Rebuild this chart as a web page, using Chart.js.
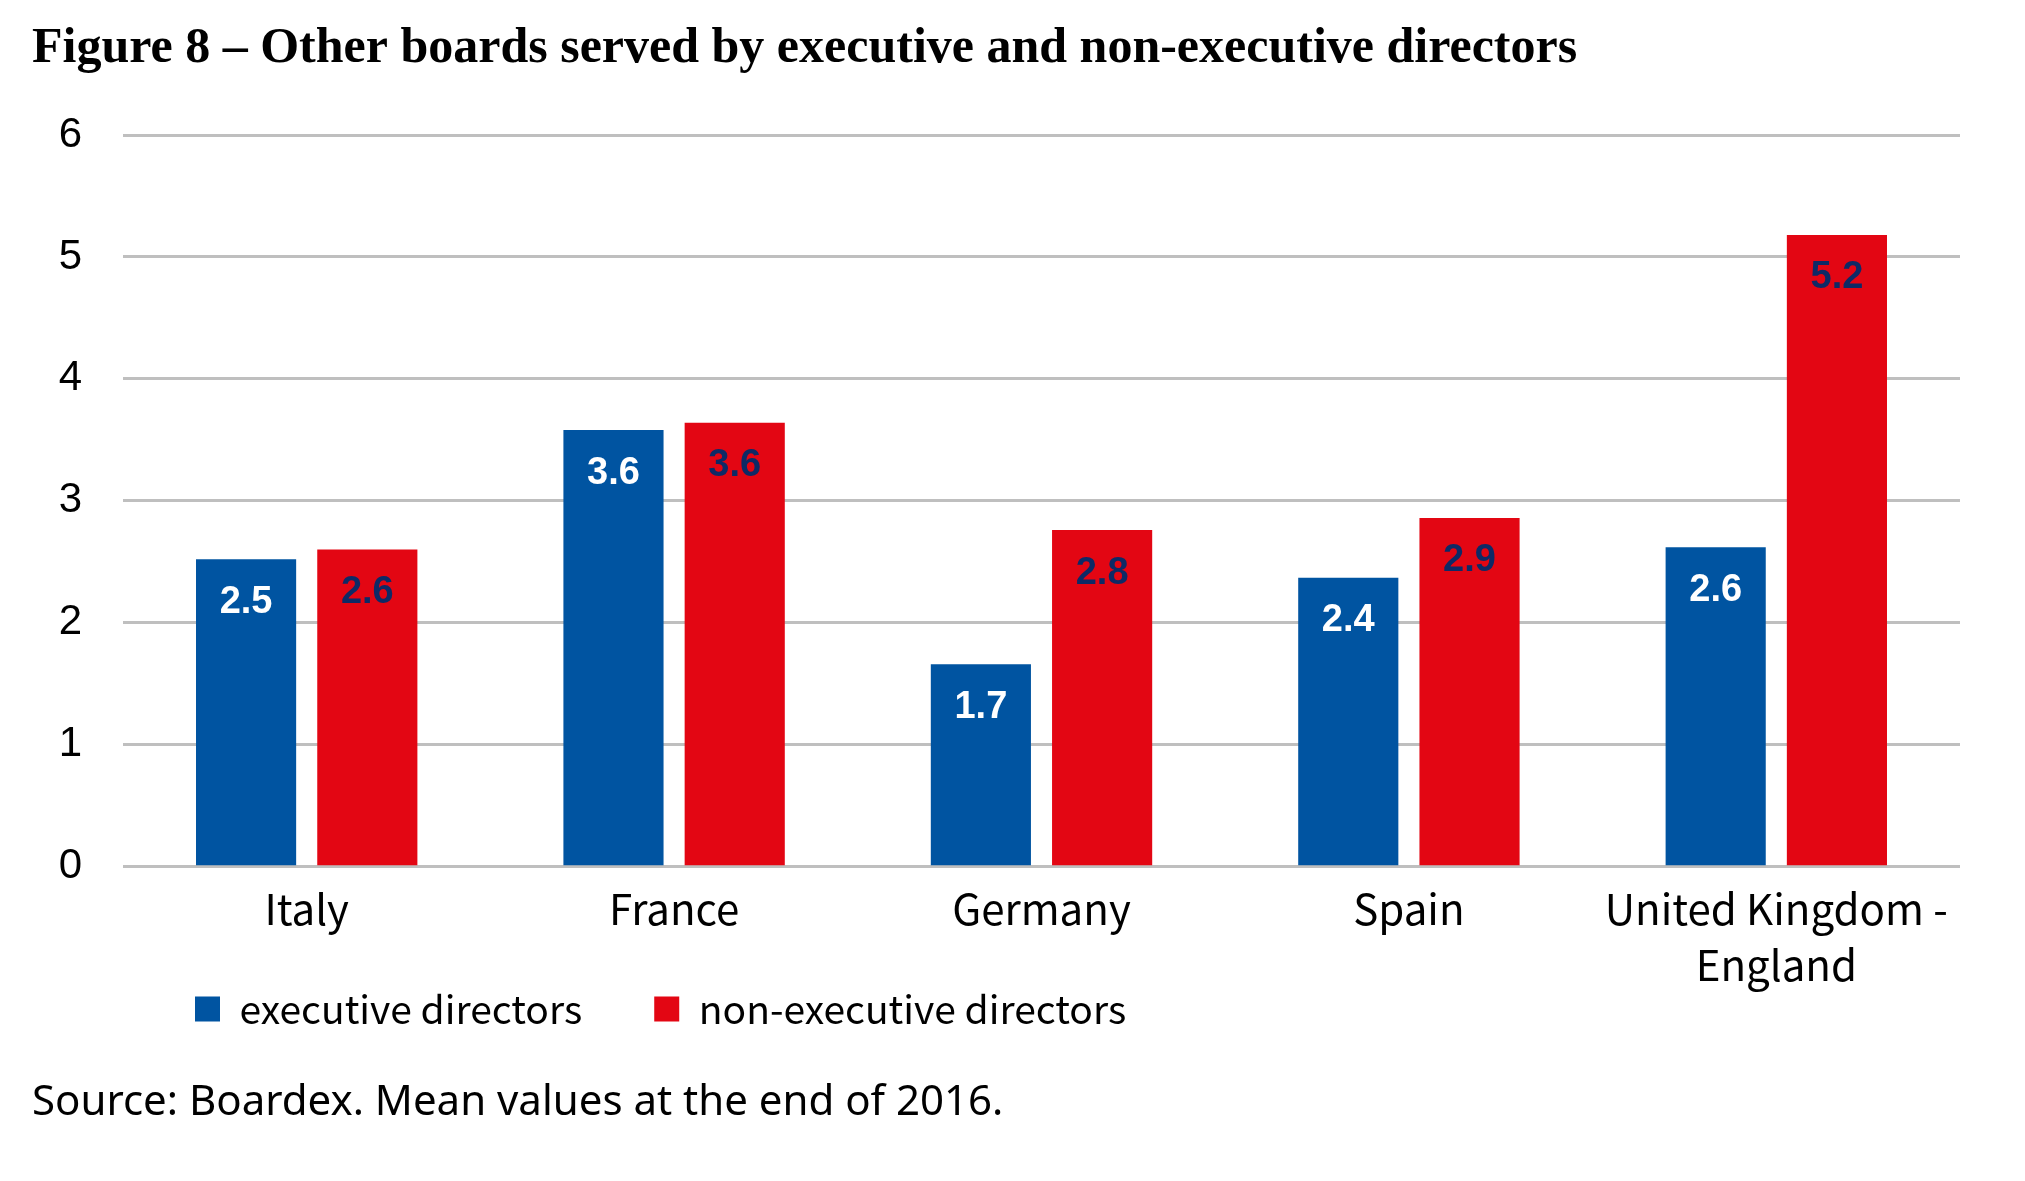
<!DOCTYPE html>
<html lang="en">
<head>
    <meta charset="UTF-8">
    <title>Figure 8 - Other boards served by executive and non-executive directors</title>
    <style>
        body {
            margin: 0;
            padding: 0;
            background: #fff;
        }

        #chart-box {
            width: 2025px;
            height: 1181px;
        }
    </style>
    <script src="https://cdn.jsdelivr.net/npm/chart.js"></script>
</head>
<body>
    <div id="chart-box">
        <canvas id="boardsChart" width="2025" height="1181"></canvas>
    </div>
    <script>
        // values
        var countries = ['Italy', 'France', 'Germany', 'Spain', ['United Kingdom -', 'England']];
        var executiveDirectors = [2.52, 3.58, 1.66, 2.37, 2.62];
        var nonExecutiveDirectors = [2.6, 3.64, 2.76, 2.86, 5.18];
        var seriesNames = ['executive directors', 'non-executive directors'];
        var yTicks = [0, 1, 2, 3, 4, 5, 6];

        var blue = '#0054a1';
        var red = '#e30613';
        var legendPadding = 72;

        // value labels inside the top of each bar
        var barValueLabels = {
            id: 'barValueLabels',
            afterDatasetsDraw: function (chart) {
                var ctx = chart.ctx;
                var colors = ['#ffffff', '#0e2a66'];
                ctx.save();
                ctx.font = 'bold 38px "Liberation Sans", Arial, sans-serif';
                ctx.textAlign = 'center';
                ctx.textBaseline = 'middle';
                chart.data.datasets.forEach(function (ds, i) {
                    ctx.fillStyle = colors[i];
                    chart.getDatasetMeta(i).data.forEach(function (bar, j) {
                        ctx.fillText(ds.data[j].toFixed(1), bar.x, bar.y + 43);
                    });
                });
                ctx.restore();
            }
        };

        // the big label padding is only wanted sideways, so pull the legend back up
        var liftLegend = {
            id: 'liftLegend',
            afterLayout: function (chart) {
                chart.legend.top -= legendPadding + 17;
            }
        };

        var ctx = document.getElementById('boardsChart').getContext('2d');
        new Chart(ctx, {
            type: 'bar',
            data: {
                labels: countries,
                datasets: [{
                    label: seriesNames[0],
                    data: executiveDirectors,
                    backgroundColor: blue
                }, {
                    label: seriesNames[1],
                    data: nonExecutiveDirectors,
                    backgroundColor: red
                }]
            },
            options: {
                responsive: false,
                animation: false,
                devicePixelRatio: 1,
                categoryPercentage: 0.66,
                barPercentage: 0.826,
                layout: {
                    padding: { left: 32, right: 65, top: 0, bottom: 43 }
                },
                scales: {
                    x: {
                        grid: { display: false, drawTicks: false },
                        border: { display: false },
                        ticks: {
                            color: '#000',
                            padding: 14,
                            font: { family: '"Noto Sans CJK KR", "Noto Sans", sans-serif', size: 42, lineHeight: 1.333 }
                        }
                    },
                    y: {
                        min: 0,
                        max: 6,
                        afterBuildTicks: function (scale) {
                            scale.ticks = yTicks.map(function (v) { return { value: v }; });
                        },
                        grid: { color: '#bfbfbf', lineWidth: 3, drawTicks: false },
                        border: { display: false },
                        ticks: {
                            color: '#000',
                            padding: 41,
                            font: { family: '"Liberation Sans", Arial, sans-serif', size: 42 }
                        },
                        afterFit: function (scale) { scale.width = 91; }
                    }
                },
                plugins: {
                    title: {
                        display: true,
                        align: 'start',
                        text: 'Figure 8 \u2013 Other boards served by executive and non-executive directors',
                        color: '#000',
                        font: { family: '"Liberation Serif", "Times New Roman", serif', size: 50, weight: 'bold', lineHeight: 1.2 },
                        padding: { top: 19, bottom: 56 }
                    },
                    subtitle: {
                        display: true,
                        position: 'bottom',
                        align: 'start',
                        text: 'Source: Boardex. Mean values at the end of 2016.',
                        color: '#000',
                        font: { family: '"Noto Sans", sans-serif', size: 42, lineHeight: 1.2 },
                        padding: { top: 20, bottom: 10 }
                    },
                    legend: {
                        position: 'bottom',
                        align: 'start',
                        fullSize: false,
                        maxHeight: 51,
                        labels: {
                            boxWidth: 25,
                            boxHeight: 25,
                            padding: legendPadding,
                            color: '#000',
                            font: { family: '"Noto Sans CJK KR", "Noto Sans", sans-serif', size: 39 }
                        }
                    },
                    tooltip: { enabled: false }
                }
            },
            plugins: [barValueLabels, liftLegend]
        });
    </script>
</body>
</html>
